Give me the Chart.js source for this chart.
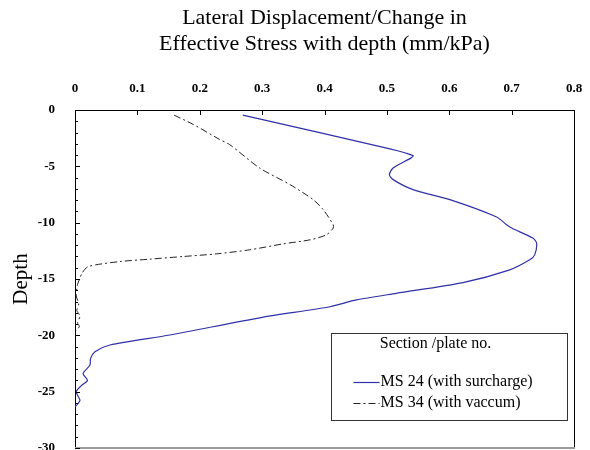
<!DOCTYPE html>
<html>
<head>
<meta charset="utf-8">
<script src="https://cdn.jsdelivr.net/npm/chart.js@4/dist/chart.umd.min.js"></script>
<style>
  html, body { margin: 0; padding: 0; background: #fff; }
  #wrap { width: 590px; height: 450px; }
</style>
</head>
<body>
<div id="wrap"><canvas id="c" width="590" height="450"></canvas></div>
<script>
// Lateral displacement / change in effective stress (mm/kPa) against depth
const surchargeX = [0.269, 0.505, 0.542, 0.539, 0.510, 0.504, 0.510, 0.542, 0.601, 0.676, 0.692, 0.700,
  0.734, 0.740, 0.737, 0.729, 0.697, 0.622, 0.515, 0.451, 0.409, 0.300, 0.152, 0.056, 0.032, 0.025,
  0.024, 0.013, 0.020, 0.011, 0.002, 0.008, 0.005, 0.000];
const surchargeDepth = [-0.46, -3.45, -4.05, -4.25, -5.15, -5.74, -6.18, -7.07, -7.96, -9.50, -10.19, -10.48,
  -11.37, -11.80, -12.86, -13.30, -14.19, -15.32, -16.27, -16.86, -17.46, -18.40, -19.97, -20.86, -21.46, -22.05,
  -22.64, -23.40, -24.00, -24.42, -25.00, -25.76, -26.05, -26.35];

const vacuumX = [0.159, 0.190, 0.232, 0.248, 0.296, 0.345, 0.382, 0.398, 0.414, 0.414, 0.403, 0.377,
  0.334, 0.280, 0.227, 0.174, 0.120, 0.072, 0.021, 0.011, 0.008, 0.004, 0.002, 0.006, 0.003,
  0.008, 0.004, 0.007, 0.002];
const vacuumDepth = [-0.46, -1.29, -2.62, -3.07, -5.15, -6.63, -7.96, -8.85, -10.19, -10.48, -11.08, -11.52,
  -11.88, -12.41, -12.77, -13.00, -13.24, -13.45, -13.90, -14.50, -14.93, -15.50, -16.50, -17.20, -17.80,
  -18.30, -18.90, -19.20, -19.60];

const seriesNames = ['MS 24 (with surcharge)', 'MS 34 (with vaccum)'];
const legendTitle = 'Section /plate no.';
const titleLines = ['Lateral Displacement/Change in', 'Effective Stress with depth (mm/kPa)'];
const yAxisTitle = 'Depth';

const xTickValues = [0, 0.1, 0.2, 0.3, 0.4, 0.5, 0.6, 0.7, 0.8];
const xTickLabels = ['0', '0.1', '0.2', '0.3', '0.4', '0.5', '0.6', '0.7', '0.8'];
const yTickValues = [0, -5, -10, -15, -20, -25, -30];
const yTickLabels = ['0', '-5', '-10', '-15', '-20', '-25', '-30'];

const toPoints = (xs, ys) => xs.map((x, i) => ({ x: x, y: ys[i] }));

const SERIF = "'Liberation Serif', 'Times New Roman', serif";

// Fixed axis sizes; label overhang must not shrink the plot
const fixScale = (size) => (s) => {
  if (s.isHorizontal()) s.height = size; else s.width = size;
  s.paddingTop = 0; s.paddingBottom = 0; s.paddingLeft = 0; s.paddingRight = 0;
};

// Frame and inward tick marks
const frameTicks = {
  id: 'frameTicks',
  afterDatasetsDraw(chart) {
    const { ctx, chartArea: a, scales } = chart;
    ctx.save();
    ctx.lineWidth = 1;
    // right edge
    ctx.strokeStyle = '#000';
    ctx.beginPath();
    ctx.moveTo(Math.round(a.right) + 0.5, a.top);
    ctx.lineTo(Math.round(a.right) + 0.5, a.bottom);
    ctx.stroke();
    // bottom edge
    ctx.strokeStyle = '#9a9a9a';
    ctx.lineWidth = 2;
    ctx.beginPath();
    ctx.moveTo(a.left, Math.round(a.bottom));
    ctx.lineTo(a.right + 1, Math.round(a.bottom));
    ctx.stroke();
    // x ticks on the top axis, pointing down
    ctx.strokeStyle = '#000';
    ctx.lineWidth = 1;
    ctx.beginPath();
    xTickValues.forEach(v => {
      const px = Math.round(scales.x.getPixelForValue(v)) + 0.5;
      ctx.moveTo(px, a.top);
      ctx.lineTo(px, a.top + 5);
    });
    // y ticks, major every 5, minor every 1, pointing right
    for (let d = 0; d >= -30; d--) {
      const py = Math.round(scales.y.getPixelForValue(d)) + 0.5;
      const len = (d % 5 === 0) ? 5 : 3;
      ctx.moveTo(a.left, py);
      ctx.lineTo(a.left + len, py);
    }
    ctx.stroke();
    ctx.restore();
  }
};

// Boxed legend with a heading, drawn inside the plot area
const boxedLegend = {
  id: 'boxedLegend',
  afterDraw(chart) {
    const { ctx, chartArea: a } = chart;
    const bx = Math.round(a.right) - 243 + 0.5;
    const by = 333.5;
    const bw = 236, bh = 87;
    ctx.save();
    ctx.fillStyle = '#fff';
    ctx.fillRect(bx, by, bw, bh);
    ctx.strokeStyle = '#333';
    ctx.lineWidth = 1;
    ctx.strokeRect(bx, by, bw, bh);
    ctx.fillStyle = '#000';
    ctx.font = "16px " + SERIF;
    ctx.textBaseline = 'middle';
    ctx.textAlign = 'center';
    ctx.fillText(legendTitle, bx + 104, by + 10);
    ctx.textAlign = 'left';
    const rows = [by + 48, by + 69];
    chart.data.datasets.forEach((ds, i) => {
      const y = Math.round(rows[i]) + 0.5;
      ctx.save();
      ctx.strokeStyle = ds.borderColor;
      ctx.lineWidth = ds.borderWidth;
      ctx.setLineDash(ds.borderDash || []);
      ctx.beginPath();
      ctx.moveTo(bx + 22, y);
      ctx.lineTo(bx + 48, y);
      ctx.stroke();
      ctx.restore();
      ctx.fillText(ds.label, bx + 49, rows[i]);
    });
    ctx.restore();
  }
};

new Chart(document.getElementById('c'), {
  type: 'scatter',
  data: {
    datasets: [
      {
        label: seriesNames[0],
        data: toPoints(surchargeX, surchargeDepth),
        showLine: true,
        borderColor: '#3030a8',
        borderWidth: 1.2,
        pointRadius: 0,
        tension: 0.25,
        fill: false
      },
      {
        label: seriesNames[1],
        data: toPoints(vacuumX, vacuumDepth),
        showLine: true,
        borderColor: '#222',
        borderWidth: 1,
        borderDash: [7, 3, 2, 3],
        pointRadius: 0,
        tension: 0.25,
        fill: false
      }
    ]
  },
  options: {
    responsive: false,
    animation: false,
    layout: { autoPadding: false, padding: { top: 5, left: 0, right: 16, bottom: 2 } },
    plugins: {
      legend: { display: false },
      tooltip: { enabled: false },
      title: {
        display: true,
        fullSize: false,
        text: titleLines,
        color: '#000',
        font: { family: SERIF, size: 22, weight: 'normal', lineHeight: 26 / 22 },
        padding: { top: 0, bottom: 0 }
      }
    },
    scales: {
      x: {
        type: 'linear',
        position: 'top',
        min: 0,
        max: 0.8,
        afterFit: fixScale(53),
        afterBuildTicks(s) { s.ticks = xTickValues.map(v => ({ value: v })); },
        ticks: {
          autoSkip: false,
          maxRotation: 0,
          padding: 14,
          color: '#000',
          font: { family: SERIF, size: 13, weight: 'bold' },
          callback: (v) => xTickLabels[xTickValues.findIndex(t => Math.abs(t - v) < 1e-9)]
        },
        grid: { drawOnChartArea: false, drawTicks: false },
        border: { display: true, color: '#000', width: 1 }
      },
      y: {
        type: 'linear',
        min: -30,
        max: 0,
        afterFit: fixScale(75),
        afterBuildTicks(s) { s.ticks = yTickValues.map(v => ({ value: v })); },
        ticks: {
          autoSkip: false,
          padding: 20,
          color: '#000',
          font: { family: SERIF, size: 13, weight: 'bold' },
          callback: (v) => yTickLabels[yTickValues.indexOf(v)]
        },
        grid: { drawOnChartArea: false, drawTicks: false },
        border: { display: true, color: '#000', width: 1 },
        title: {
          display: true,
          text: yAxisTitle,
          color: '#000',
          font: { family: SERIF, size: 21, weight: 'normal' },
          padding: { top: 9, bottom: 0 }
        }
      }
    }
  },
  plugins: [frameTicks, boxedLegend]
});
</script>
</body>
</html>
